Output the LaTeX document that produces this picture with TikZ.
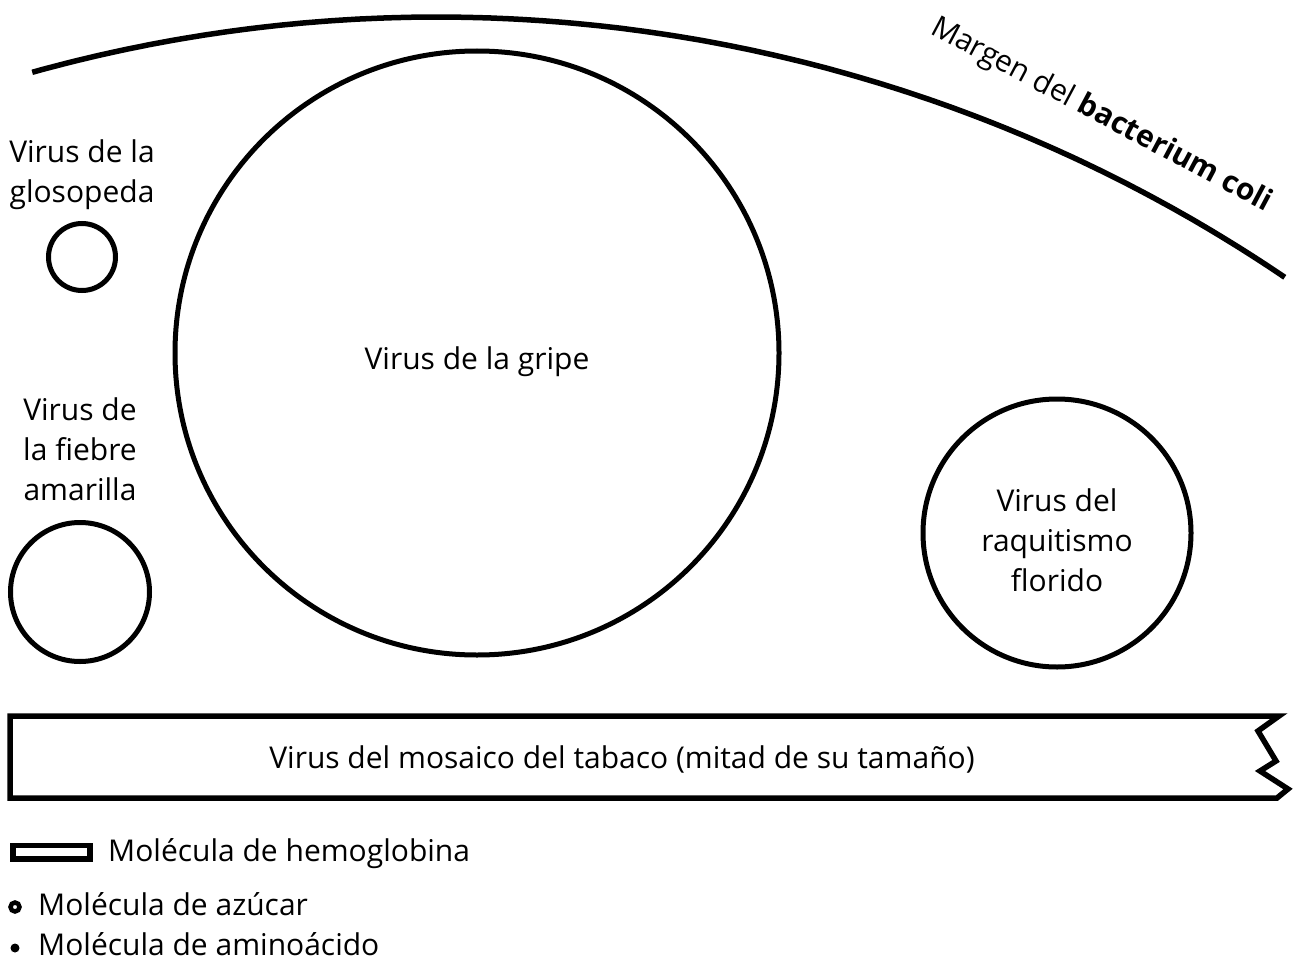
\documentclass[tikz,border=0pt]{standalone}
\usepackage{fontspec}
\setmainfont{Open Sans}
\newcommand\lblfont{\fontsize{30}{40}\selectfont}
\begin{document}
\begin{tikzpicture}[x=1pt,y=-1pt,
  shell/.style={line width=5.5pt, line cap=butt},
  virus/.style={draw, circle, line width=5pt, inner sep=0pt},
  lbl/.style={font=\lblfont, align=center, inner sep=0pt}]
\useasboundingbox (0,0) rectangle (1293,963);
\fill[white] (0,0) rectangle (1293,963);

% margin of the bacterium
\draw[shell] plot[domain=55.87:105.54, samples=120, smooth] ({437+1511*cos(\x)},{1528-1511*sin(\x)});
\node[lbl, anchor=base west, rotate=-28] (marg) at (929,33) {Margen del \textbf{bacterium coli}};

% viruses
\node[virus, minimum size=67pt] (glos) at (82,257) {};
\node[lbl] (glosl) at (82,175) {Virus de la\\glosopeda};

\node[virus, minimum size=139pt] (fieb) at (80,592) {};
\node[lbl] (fiebl) at (80,449) {Virus de\\la fiebre\\amarilla};

\node[virus, minimum size=604pt] (grip) at (477,353) {};
\node[lbl, anchor=base] (gripl) at (477,369) {Virus de la gripe};

\node[virus, minimum size=268pt] (raq) at (1057,533) {};
\node[lbl] (raql) at (1057,540) {Virus del\\raquitismo\\florido};

% tobacco mosaic virus
\draw[line width=5.5pt, line join=miter] (1279,716) -- (10,716) -- (10,798) -- (1277,798) -- (1288,789) -- (1260,771) -- (1276,761) -- (1258,731) -- cycle;
\node[lbl, anchor=base] (tab) at (622,768) {Virus del mosaico del tabaco (mitad de su tamaño)};

% legend
\draw[line width=5.5pt] (13,845.5) rectangle (90,859);
\node[lbl, anchor=base west] (hemo) at (108,861) {Molécula de hemoglobina};
\draw[line width=4.5pt] (15,907) circle[radius=4.5pt];
\node[lbl, anchor=base west] (azu) at (38,915) {Molécula de azúcar};
\fill (15,948) circle[radius=4.5pt];
\node[lbl, anchor=base west] (amino) at (38,955) {Molécula de aminoácido};
\end{tikzpicture}
\end{document}
